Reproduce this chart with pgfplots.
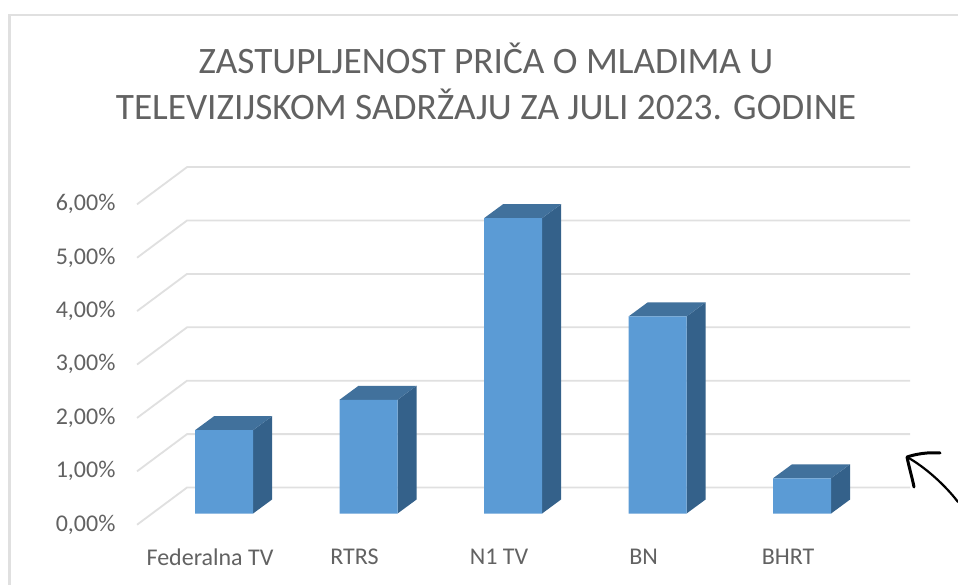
\documentclass[border=0pt]{standalone}
\usepackage{fontspec}
\setmainfont{Carlito}
\usepackage{pgfplots}
\pgfplotsset{compat=1.18}
\definecolor{front}{HTML}{5B9BD5}
\definecolor{topf}{HTML}{41719C}
\definecolor{sidef}{HTML}{34618A}
\definecolor{gridc}{HTML}{E0E0E0}
\definecolor{txt}{HTML}{626262}
\begin{document}
\begin{tikzpicture}[x=1pt,y=1pt]
\useasboundingbox (0,0) rectangle (958,585);
\fill[white] (0,0) rectangle (958,585);
\draw[gridc,line width=2.5pt] (9.5,0) -- (9.5,570) -- (958,570);
\begin{axis}[
  at={(133pt,60pt)}, anchor=south west,
  scale only axis, width=777pt, height=358pt,
  xmin=-0.63, xmax=4.747, ymin=-0.215, ymax=6.489,
  clip=false,
  axis line style={draw=none},
  major tick length=0pt,
  xtick={0,1,2,3,4},
  xticklabels={Federalna TV,RTRS,N1 TV,BN,BHRT},
  ytick={0,1,2,3,4,5,6},
  yticklabels={{0,00\%},{1,00\%},{2,00\%},{3,00\%},{4,00\%},{5,00\%},{6,00\%}},
  xticklabel style={font=\fontsize{24}{28}\selectfont,text=txt,xshift=-14pt,anchor=center,yshift=-32pt},
  yticklabel style={font=\fontsize{24}{28}\selectfont,text=txt,anchor=east,xshift=-14pt,yshift=-11pt},
  title={ZASTUPLJENOST PRIČA O MLADIMA U\\TELEVIZIJSKOM SADRŽAJU ZA JULI 2023. GODINE},
  title style={font=\fontsize{37.3}{46}\selectfont,text=txt,align=center,at={(0.4543,1)},anchor=south,yshift=38pt},
]
% back wall gridlines and left wall diagonals
\addplot[gridc,line width=1.8pt,unbounded coords=jump] coordinates {
 (-0.602,-0.21)(-0.256,0.487)(4.747,0.487)(nan,nan)
 (-0.602,0.79)(-0.256,1.487)(4.747,1.487)(nan,nan)
 (-0.602,1.79)(-0.256,2.487)(4.747,2.487)(nan,nan)
 (-0.602,2.79)(-0.256,3.487)(4.747,3.487)(nan,nan)
 (-0.602,3.79)(-0.256,4.487)(4.747,4.487)(nan,nan)
 (-0.602,4.79)(-0.256,5.487)(4.747,5.487)(nan,nan)
 (-0.602,5.79)(-0.256,6.487)(4.747,6.487)
};
% side faces
\addplot[fill=sidef,draw=none] coordinates {(0.2007,0)(0.3322,0.262)(0.3322,1.822)(0.2007,1.56)} -- cycle;
\addplot[fill=sidef,draw=none] coordinates {(1.2007,0)(1.3322,0.262)(1.3322,2.392)(1.2007,2.13)} -- cycle;
\addplot[fill=sidef,draw=none] coordinates {(2.2007,0)(2.3322,0.262)(2.3322,5.792)(2.2007,5.53)} -- cycle;
\addplot[fill=sidef,draw=none] coordinates {(3.2007,0)(3.3322,0.262)(3.3322,3.952)(3.2007,3.69)} -- cycle;
\addplot[fill=sidef,draw=none] coordinates {(4.2007,0)(4.3322,0.262)(4.3322,0.922)(4.2007,0.66)} -- cycle;
% top faces
\addplot[fill=topf,draw=none] coordinates {(-0.2007,1.56)(0.2007,1.56)(0.3322,1.822)(-0.0692,1.822)} -- cycle;
\addplot[fill=topf,draw=none] coordinates {(0.7993,2.13)(1.2007,2.13)(1.3322,2.392)(0.9308,2.392)} -- cycle;
\addplot[fill=topf,draw=none] coordinates {(1.7993,5.53)(2.2007,5.53)(2.3322,5.792)(1.9308,5.792)} -- cycle;
\addplot[fill=topf,draw=none] coordinates {(2.7993,3.69)(3.2007,3.69)(3.3322,3.952)(2.9308,3.952)} -- cycle;
\addplot[fill=topf,draw=none] coordinates {(3.7993,0.66)(4.2007,0.66)(4.3322,0.922)(3.9308,0.922)} -- cycle;
% front faces
\addplot[ybar,bar width=58pt,bar shift=0pt,fill=front,draw=none] coordinates {(0,1.56)(1,2.13)(2,5.53)(3,3.69)(4,0.66)};
\end{axis}
% hand-drawn arrow
\draw[black,line width=3pt,line cap=round,line join=round] (940,132) .. controls (928,133) and (916,131) .. (907,128) .. controls (909,118) and (912,108) .. (914,98);
\draw[black,line width=2.2pt,line cap=round] (907,128) .. controls (925,118) and (945,100) .. (958,83);
\end{tikzpicture}
\end{document}
